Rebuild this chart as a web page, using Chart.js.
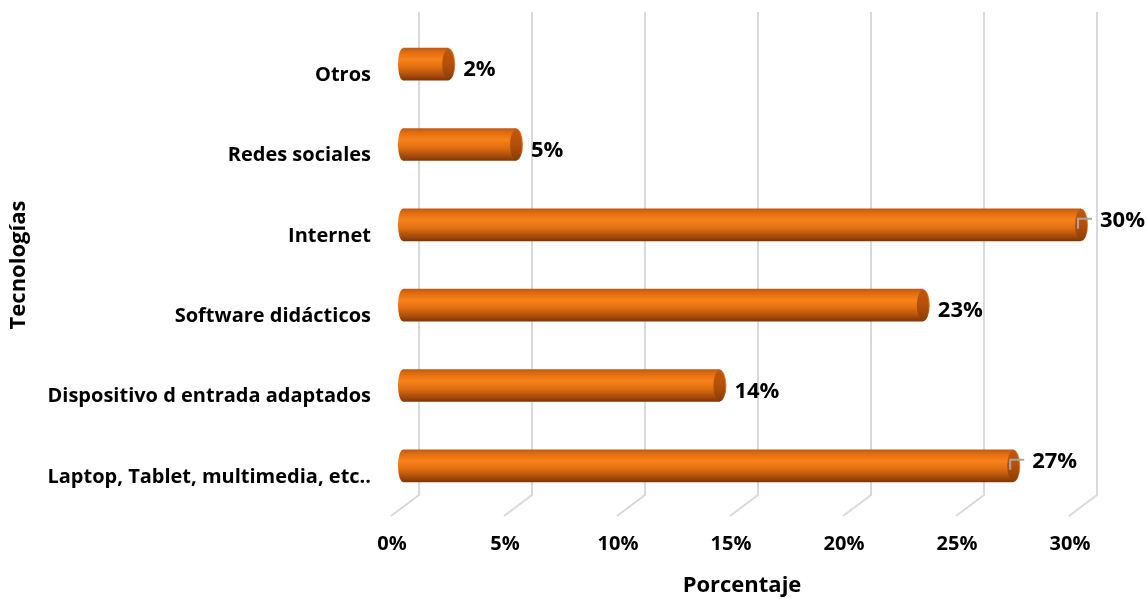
<!DOCTYPE html>
<html>
<head>
<meta charset="utf-8">
<script src="https://cdn.jsdelivr.net/npm/chart.js@4"></script>
<style>
  html, body { margin: 0; padding: 0; background: #fff; }
  #wrap { width: 1147px; height: 599px; }
</style>
</head>
<body>
<div id="wrap"><canvas id="chart"></canvas></div>
<script>
// data
const categories = ['Otros', 'Redes sociales', 'Internet', 'Software didácticos', 'Dispositivo d entrada adaptados', 'Laptop, Tablet, multimedia, etc..'];
const percentages = [2, 5, 30, 23, 14, 27];
const tickValues = [0, 5, 10, 15, 20, 25, 30];
const withLeader = [false, false, true, false, false, true];

const FONT = "'Open Sans', sans-serif";

// gradient for the cylinder body
function barGradient(ctx, top, bottom) {
  const g = ctx.createLinearGradient(0, top, 0, bottom);
  g.addColorStop(0, '#c05a14');
  g.addColorStop(0.12, '#e06c10');
  g.addColorStop(0.35, '#f9821a');
  g.addColorStop(0.6, '#e06e10');
  g.addColorStop(0.85, '#a94c0b');
  g.addColorStop(1, '#7e3706');
  return g;
}

// 3D style gridlines: back wall line plus slanted floor line
const gridPlugin = {
  id: 'grid3d',
  beforeDatasetsDraw(chart) {
    const ctx = chart.ctx;
    const xs = chart.scales.x;
    ctx.save();
    ctx.strokeStyle = '#d9d9d9';
    ctx.lineWidth = 2;
    tickValues.forEach(v => {
      const x = xs.getPixelForValue(v);
      ctx.beginPath();
      ctx.moveTo(x + 16, 12);
      ctx.lineTo(x + 16, 495);
      ctx.lineTo(x - 12, 516);
      ctx.stroke();
    });
    ctx.restore();
  }
};

// caps of the cylinders and the value labels
const capPlugin = {
  id: 'caps',
  afterDatasetsDraw(chart) {
    const ctx = chart.ctx;
    const meta = chart.getDatasetMeta(0);
    ctx.save();
    meta.data.forEach((bar, i) => {
      const top = bar.y - bar.height / 2;
      const bottom = bar.y + bar.height / 2;
      const ry = bar.height / 2;
      // left rounded end
      ctx.fillStyle = barGradient(ctx, top, bottom);
      ctx.beginPath();
      ctx.ellipse(bar.base, bar.y, 5, ry, 0, 0, Math.PI * 2);
      ctx.fill();
      // right end cap
      ctx.beginPath();
      ctx.ellipse(bar.x, bar.y, 7, ry, 0, 0, Math.PI * 2);
      ctx.fill();
      const g = ctx.createLinearGradient(0, top, 0, bottom);
      g.addColorStop(0, '#c2570c');
      g.addColorStop(0.5, '#b3500a');
      g.addColorStop(1, '#8a3d07');
      ctx.fillStyle = g;
      ctx.beginPath();
      ctx.ellipse(bar.x, bar.y, 6, ry - 1, 0, 0, Math.PI * 2);
      ctx.fill();

      // value label
      ctx.fillStyle = '#000';
      ctx.font = 'bold 22px ' + FONT;
      ctx.textBaseline = 'middle';
      ctx.textAlign = 'left';
      if (withLeader[i]) {
        ctx.strokeStyle = '#a6a6a6';
        ctx.lineWidth = 2;
        ctx.beginPath();
        ctx.moveTo(bar.x - 3, bar.y + 4);
        ctx.lineTo(bar.x - 3, bar.y - 6);
        ctx.lineTo(bar.x + 11, bar.y - 6);
        ctx.stroke();
        ctx.fillText(percentages[i] + '%', bar.x + 19, bar.y - 4);
      } else {
        ctx.fillText(percentages[i] + '%', bar.x + 15, bar.y + 6);
      }
    });
    ctx.restore();
  }
};

const ctx = document.getElementById('chart').getContext('2d');

new Chart(ctx, {
  type: 'bar',
  data: {
    labels: categories,
    datasets: [{
      data: percentages,
      backgroundColor: c => {
        const ys = c.chart.scales.y;
        if (!ys || c.dataIndex === undefined) return '#e06e10';
        const yc = ys.getPixelForValue(c.dataIndex);
        if (!isFinite(yc)) return '#e06e10';
        return barGradient(c.chart.ctx, yc - 16, yc + 16);
      },
      borderWidth: 0,
      barThickness: 32
    }]
  },
  options: {
    indexAxis: 'y',
    responsive: true,
    maintainAspectRatio: false,
    animation: false,
    layout: { padding: { top: 24, right: 66, bottom: 0, left: 0 } },
    plugins: {
      legend: { display: false },
      tooltip: { enabled: false }
    },
    scales: {
      x: {
        min: 0,
        max: 30,
        afterBuildTicks: s => { s.ticks = tickValues.map(v => ({ value: v })); },
        grid: { display: false, drawTicks: false },
        border: { display: false },
        ticks: {
          callback: v => v + '%',
          labelOffset: -11,
          padding: 26,
          color: '#000',
          font: { family: FONT, size: 20, weight: 'bold' }
        },
        title: {
          display: true,
          text: 'Porcentaje',
          color: '#000',
          font: { family: FONT, size: 22, weight: 'bold' },
          padding: { top: 8, bottom: 0 }
        },
        afterFit: s => { s.height = 93; s.paddingLeft = 0; s.paddingRight = 0; }
      },
      y: {
        grid: { display: false, drawTicks: false },
        border: { display: false },
        ticks: {
          labelOffset: 11,
          padding: 32,
          color: '#000',
          font: { family: FONT, size: 20, weight: 'bold' }
        },
        title: {
          display: true,
          text: 'Tecnologías',
          color: '#000',
          font: { family: FONT, size: 22, weight: 'bold' },
          padding: { top: 6, bottom: 4 }
        },
        afterFit: s => { s.width = 403; s.paddingTop = 0; s.paddingBottom = 0; }
      }
    }
  },
  plugins: [gridPlugin, capPlugin]
});
</script>
</body>
</html>
